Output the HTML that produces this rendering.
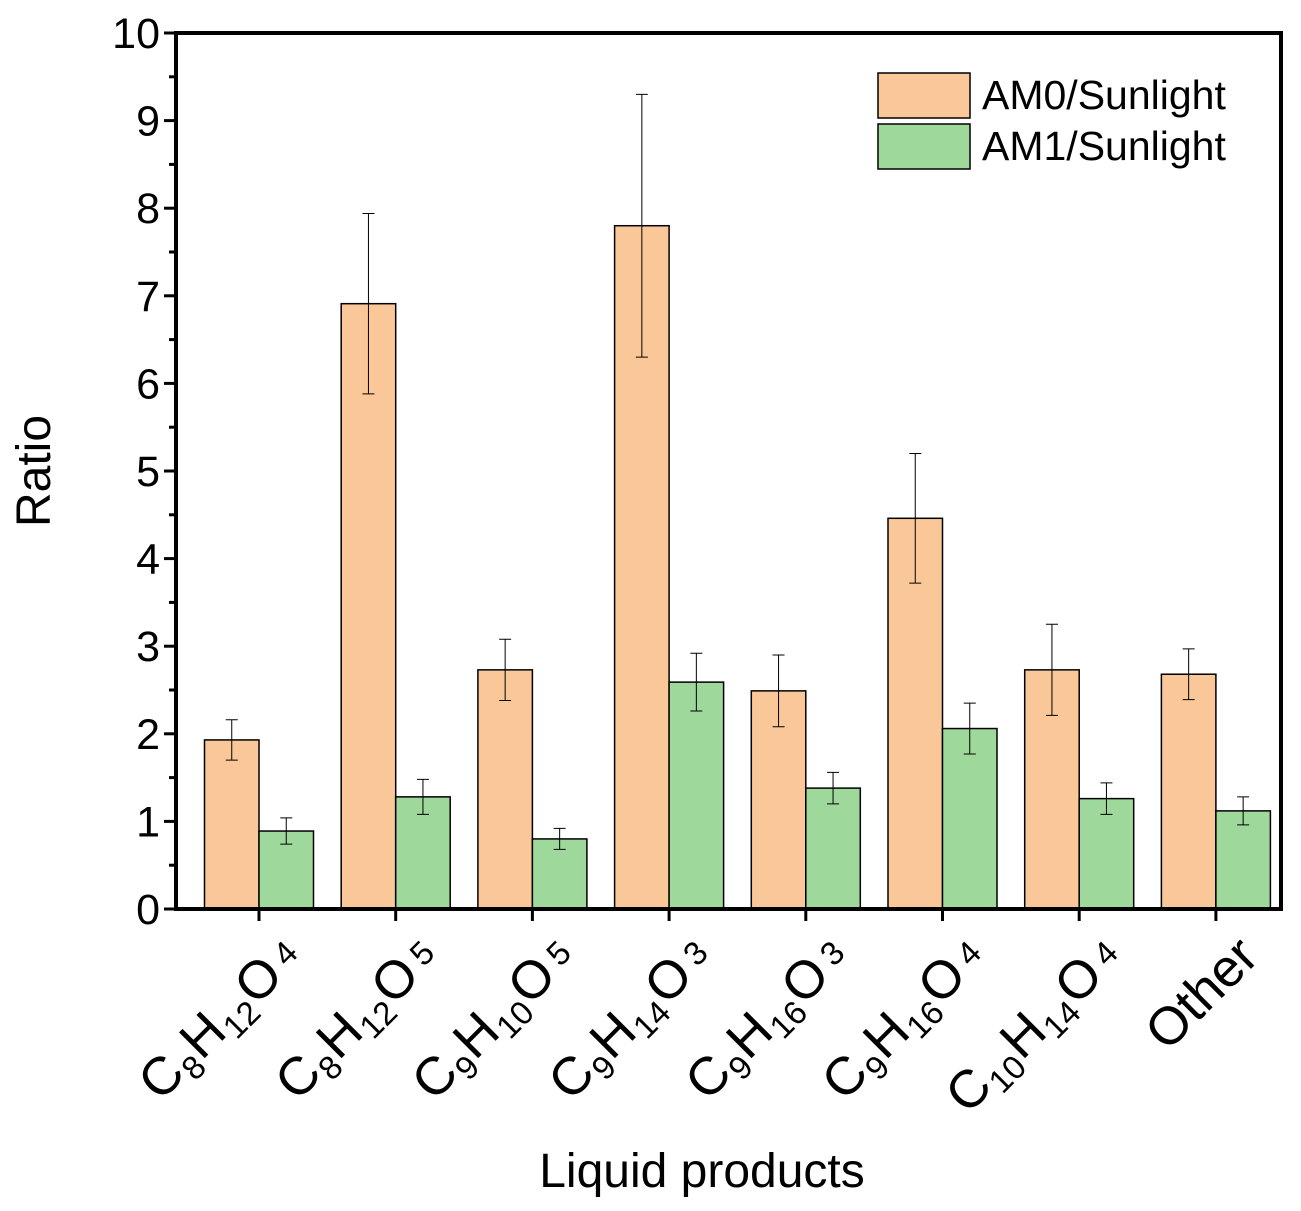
<!DOCTYPE html>
<html><head><meta charset="utf-8"><style>
html,body{margin:0;padding:0;background:#fff;}
svg{display:block;font-family:"Liberation Sans",Arial,sans-serif;}
</style></head><body>
<svg id="chart" width="1301" height="1211" viewBox="0 0 1301 1211" xmlns="http://www.w3.org/2000/svg">
<g id="bars"></g>
<g id="axes"></g>
<g>
<rect x="878" y="73" width="92" height="45" fill="#fac898" stroke="#000" stroke-width="1.5"/>
<text x="982" y="109" font-size="41">AM0/Sunlight</text>
<rect x="878" y="124" width="92" height="45" fill="#9fd89b" stroke="#000" stroke-width="1.5"/>
<text x="982" y="160" font-size="41">AM1/Sunlight</text>
</g>
<text transform="translate(50,471) rotate(-90)" text-anchor="middle" font-size="48">Ratio</text>
<text x="702" y="1187" text-anchor="middle" font-size="48">Liquid products</text>
</svg>
<script>
const categories=[["C","8","H","12","O","4"],["C","8","H","12","O","5"],["C","9","H","10","O","5"],["C","9","H","14","O","3"],["C","9","H","16","O","3"],["C","9","H","16","O","4"],["C","10","H","14","O","4"],["Other"]];
const am0=[1.93,6.91,2.73,7.80,2.49,4.46,2.73,2.68];
const am0Err=[0.23,1.03,0.35,1.5,0.41,0.74,0.52,0.29];
const am1=[0.89,1.28,0.80,2.59,1.38,2.06,1.26,1.12];
const am1Err=[0.15,0.2,0.12,0.33,0.18,0.29,0.18,0.16];
const yTicks=[0,1,2,3,4,5,6,7,8,9,10];

const NS="http://www.w3.org/2000/svg";
const L=176,R=1281,T=33,B=909;
const y=v=>B-(v/10)*(B-T);
const xc=i=>259+i*136.7;
const bw=54.5;
function mk(tag,attrs,parent){const e=document.createElementNS(NS,tag);for(const k in attrs)e.setAttribute(k,attrs[k]);parent.appendChild(e);return e;}
const bars=document.getElementById('bars'),axes=document.getElementById('axes');
function bar(x,v,err,fill,name){
  const r=mk('rect',{x:x,y:y(v),width:bw,height:B-y(v),fill:fill,stroke:'#000','stroke-width':1.5},bars);
  
  
  const cx=x+bw/2;
  const g=mk('path',{d:`M${cx},${y(v+err)}V${y(v-err)}M${cx-6},${y(v+err)}H${cx+6}M${cx-6},${y(v-err)}H${cx+6}`,stroke:'#000','stroke-width':1,fill:'none'},bars);
  
  
}
categories.forEach((c,i)=>{
  bar(xc(i)-bw,am0[i],am0Err[i],'#fac898','bar-am0-'+i);
  bar(xc(i),am1[i],am1Err[i],'#9fd89b','bar-am1-'+i);
});
const f=mk('rect',{x:L,y:T,width:R-L,height:B-T,fill:'none',stroke:'#000','stroke-width':4},axes);


yTicks.forEach(t=>{
  const tk=mk('line',{x1:L-12,x2:L,y1:y(t),y2:y(t),stroke:'#000','stroke-width':3},axes);
  
  
  if(t<10){const m=mk('line',{x1:L-7,x2:L,y1:y(t+0.5),y2:y(t+0.5),stroke:'#000','stroke-width':3},axes);
  
  }
  const tx=mk('text',{x:L-16,y:y(t)+15,'text-anchor':'end','font-size':43},axes);
  tx.textContent=t;
  
  
});
categories.forEach((c,i)=>{
  const tk=mk('line',{x1:xc(i),x2:xc(i),y1:B,y2:B+12,stroke:'#000','stroke-width':3},axes);
  
  
  const tx=mk('text',{transform:`translate(${xc(i)+45},${B+50}) rotate(-45)`,'text-anchor':'end','font-size':53},axes);
  
  
  if(c.length===1){tx.textContent=c[0];}
  else{
    c.forEach((s,j)=>{
      const ts=mk('tspan',{},tx);
      if(j%2===1){ts.setAttribute('font-size','33');ts.setAttribute('dy',j===5?'-6':'10');ts.setAttribute('dx',j===5?'8':'1');}
      else if(j>0){ts.setAttribute('dy','-10');ts.setAttribute('dx','1');}
      ts.textContent=s;
    });
  }
});
</script>
</body></html>
